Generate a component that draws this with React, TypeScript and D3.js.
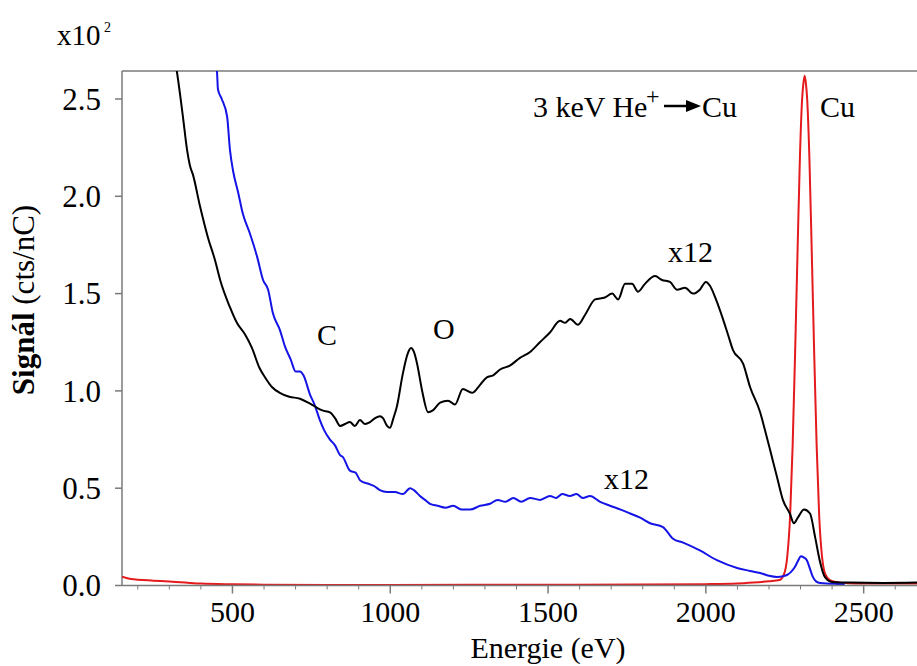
import React from "react";
import * as d3 from "d3";

// ---------- data ----------
const blackEnergy = [300, 324, 343, 356, 365, 375, 397, 422, 445, 461, 492, 514, 540, 562, 585, 603, 625, 650, 680, 714, 740, 761, 785, 809, 825, 841, 857, 872, 888, 904, 920, 936, 952, 967, 977, 990, 999, 1010, 1021, 1040, 1055, 1066, 1075, 1085, 1101, 1120, 1135, 1158, 1183, 1205, 1230, 1259, 1284, 1306, 1326, 1348, 1379, 1411, 1443, 1474, 1506, 1538, 1554, 1570, 1595, 1617, 1649, 1680, 1703, 1722, 1744, 1766, 1785, 1807, 1839, 1861, 1886, 1909, 1934, 1959, 1981, 2000, 2013, 2032, 2054, 2070, 2086, 2118, 2140, 2172, 2187, 2203, 2225, 2244, 2266, 2279, 2292, 2311, 2330, 2346, 2362, 2377, 2400, 2457, 2561, 2669];
const blackSignal = [2.85, 2.64, 2.41, 2.24, 2.16, 2.11, 1.95, 1.79, 1.67, 1.57, 1.43, 1.35, 1.29, 1.22, 1.12, 1.07, 1.02, 0.99, 0.97, 0.96, 0.94, 0.92, 0.9, 0.89, 0.86, 0.82, 0.83, 0.84, 0.82, 0.85, 0.83, 0.84, 0.86, 0.87, 0.86, 0.82, 0.81, 0.86, 0.92, 1.09, 1.19, 1.22, 1.2, 1.14, 1.0, 0.89, 0.9, 0.94, 0.95, 0.93, 1.01, 0.99, 1.03, 1.07, 1.08, 1.11, 1.13, 1.17, 1.2, 1.25, 1.3, 1.36, 1.35, 1.37, 1.34, 1.39, 1.47, 1.48, 1.5, 1.47, 1.55, 1.55, 1.51, 1.55, 1.59, 1.57, 1.56, 1.52, 1.53, 1.5, 1.52, 1.56, 1.54, 1.47, 1.37, 1.29, 1.21, 1.14, 1.02, 0.89, 0.8, 0.7, 0.56, 0.44, 0.37, 0.32, 0.35, 0.39, 0.37, 0.25, 0.12, 0.044, 0.018, 0.015, 0.013, 0.015];

const blueEnergy = [430, 451, 454, 466, 483, 492, 502, 518, 533, 555, 578, 597, 613, 628, 651, 666, 685, 700, 714, 725, 746, 760, 777, 790, 809, 825, 841, 850, 872, 890, 905, 936, 950, 967, 990, 1015, 1040, 1063, 1075, 1094, 1110, 1126, 1150, 1175, 1200, 1225, 1253, 1285, 1316, 1340, 1365, 1390, 1415, 1443, 1475, 1506, 1525, 1545, 1569, 1590, 1610, 1633, 1665, 1696, 1730, 1760, 1790, 1823, 1864, 1896, 1928, 1981, 2035, 2099, 2140, 2172, 2200, 2225, 2245, 2257, 2270, 2282, 2293, 2301, 2310, 2320, 2330, 2339, 2350, 2362, 2415, 2440];
const blueSignal = [2.85, 2.64, 2.55, 2.5, 2.41, 2.24, 2.13, 2.02, 1.91, 1.81, 1.69, 1.57, 1.52, 1.4, 1.31, 1.23, 1.16, 1.1, 1.1, 1.08, 0.98, 0.93, 0.85, 0.8, 0.75, 0.72, 0.67, 0.66, 0.59, 0.58, 0.54, 0.52, 0.51, 0.49, 0.48, 0.48, 0.47, 0.5, 0.49, 0.46, 0.44, 0.42, 0.41, 0.4, 0.41, 0.39, 0.39, 0.41, 0.42, 0.44, 0.43, 0.45, 0.43, 0.45, 0.44, 0.46, 0.45, 0.47, 0.46, 0.47, 0.45, 0.46, 0.43, 0.41, 0.39, 0.37, 0.35, 0.32, 0.3, 0.24, 0.22, 0.18, 0.13, 0.09, 0.075, 0.064, 0.05, 0.044, 0.048, 0.054, 0.07, 0.095, 0.13, 0.15, 0.145, 0.13, 0.085, 0.044, 0.02, 0.013, 0.008, 0.007];

const redEnergy = [150, 170, 200, 250, 300, 350, 400, 500, 600, 800, 1000, 1500, 1800, 2000, 2100, 2150, 2200, 2233, 2248, 2258, 2267, 2275, 2283, 2291, 2298, 2305, 2309, 2313, 2317, 2321, 2328, 2335, 2343, 2351, 2359, 2368, 2378, 2393, 2420, 2450, 2500, 2600, 2670];
const redSignal = [0.045, 0.036, 0.03, 0.025, 0.02, 0.015, 0.01, 0.006, 0.004, 0.003, 0.003, 0.004, 0.005, 0.007, 0.01, 0.015, 0.022, 0.028, 0.06, 0.15, 0.36, 0.72, 1.21, 1.75, 2.2, 2.5, 2.58, 2.62, 2.58, 2.5, 2.2, 1.75, 1.21, 0.72, 0.36, 0.15, 0.06, 0.028, 0.016, 0.012, 0.01, 0.01, 0.01];

const xMajorTicks = [500, 1000, 1500, 2000, 2500];
const yMajorTicks = [0, 0.5, 1.0, 1.5, 2.0, 2.5];

// ---------- layout ----------
const W = 917;
const H = 666;
const L = 122;
const R = 917;
const T = 71;
const B = 585.5;
const FONT = "Liberation Serif, Tinos, Times New Roman, DejaVu Serif, serif";
const AXIS = "#7a7a7a";

export default function App() {
  const x = d3.scaleLinear().domain([150, 2669]).range([L, R]);
  const y = d3.scaleLinear().domain([0, 2.5]).range([B, 99]);
  const line = d3
    .line<[number, number]>()
    .x((d) => x(d[0]))
    .y((d) => y(d[1]))
    .curve(d3.curveMonotoneX);
  const zip = (a: number[], b: number[]) => a.map((v, i) => [v, b[i]] as [number, number]);
  const minor = d3.range(200, 2700, 100).filter((v) => v % 500 !== 0 && v <= 2669);
  const ts = { fontFamily: FONT };

  return (
    <svg width={W} height={H} style={{ position: "absolute", left: 0, top: 0, background: "#fff", fontFamily: FONT }}>
      <defs>
        <clipPath id="plot">
          <rect x={L} y={T} width={R - L} height={B - T + 2} />
        </clipPath>
      </defs>
      <rect x={0} y={0} width={W} height={H} fill="#fff" />

      {/* frame */}
      <line x1={L} x2={R} y1={T} y2={T} stroke={AXIS} strokeWidth={1.5} />
      <line x1={L} x2={L} y1={T} y2={B} stroke={AXIS} strokeWidth={1.5} />

      {/* curves */}
      <g clipPath="url(#plot)" fill="none" strokeWidth={2} strokeLinejoin="round">
        <path d={line(zip(redEnergy, redSignal)) || ""} stroke="#e41a1c" />
        <path d={line(zip(blueEnergy, blueSignal)) || ""} stroke="#1414e6" />
        <path d={line(zip(blackEnergy, blackSignal)) || ""} stroke="#000" />
      </g>

      <line x1={L} x2={R} y1={B} y2={B} stroke={AXIS} strokeWidth={1.5} />

      {/* y ticks */}
      {yMajorTicks.map((t) => (
        <g key={t}>
          <line x1={L - 7} x2={L} y1={y(t)} y2={y(t)} stroke={AXIS} strokeWidth={1.5} />
          <text x={101} y={y(t)} dy="0.35em" textAnchor="end" fontSize={31} style={ts}>
            {t.toFixed(1)}
          </text>
        </g>
      ))}

      {/* x ticks */}
      {minor.map((t) => (
        <line key={t} x1={x(t)} x2={x(t)} y1={B} y2={B + 4} stroke={AXIS} strokeWidth={1} />
      ))}
      {xMajorTicks.map((t) => (
        <g key={t}>
          <line x1={x(t)} x2={x(t)} y1={B} y2={B + 8} stroke={AXIS} strokeWidth={1.5} />
          <text x={x(t)} y={622} textAnchor="middle" fontSize={30} style={ts}>
            {t}
          </text>
        </g>
      ))}

      {/* axis titles */}
      <text x={548} y={658} textAnchor="middle" fontSize={30} style={ts}>
        Energie (eV)
      </text>
      <text transform="translate(34,300) rotate(-90)" textAnchor="middle" fontSize={31} style={ts}>
        <tspan fontWeight="bold">Signál</tspan>
        <tspan> (cts/nC)</tspan>
      </text>
      <text x={57} y={45} fontSize={29} style={ts}>
        x10
      </text>
      <text x={104} y={32} fontSize={14} style={ts}>
        2
      </text>

      {/* annotations */}
      <text x={533} y={117} fontSize={30} style={ts}>
        3 keV He
      </text>
      <text x={646} y={104} fontSize={24} style={ts}>
        +
      </text>
      <line x1={664} x2={690} y1={106} y2={106} stroke="#000" strokeWidth={2.5} />
      <path d="M686,100 L701,106 L686,112 Z" fill="#000" />
      <text x={702} y={117} fontSize={30} style={ts}>
        Cu
      </text>
      <text x={820} y={117} fontSize={30} style={ts}>
        Cu
      </text>
      <text x={317} y={345} fontSize={30} style={ts}>
        C
      </text>
      <text x={433} y={339} fontSize={30} style={ts}>
        O
      </text>
      <text x={668} y={262} fontSize={30} style={ts}>
        x12
      </text>
      <text x={604} y={489} fontSize={30} style={ts}>
        x12
      </text>
    </svg>
  );
}
